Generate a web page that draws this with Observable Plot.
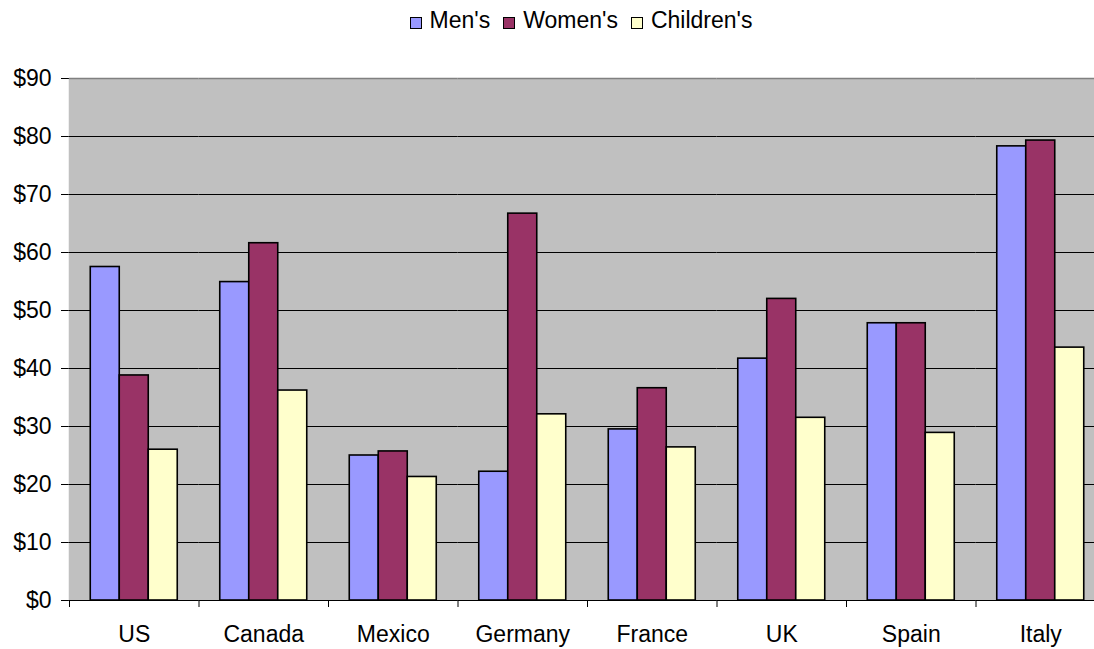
<!DOCTYPE html>
<html>
<head>
<meta charset="utf-8">
<script src="https://cdn.jsdelivr.net/npm/d3@7"></script>
<script src="https://cdn.jsdelivr.net/npm/@observablehq/plot@0.6"></script>
<style>
  html, body { margin: 0; padding: 0; background: #fff; overflow: hidden; }
  body { font-family: "Liberation Sans", Arial, sans-serif; }
  #legend { position: relative; height: 40px; width: 1106px; }
  #legend .inner { position: absolute; left: 63px; width: 1036px; top: 7px; text-align: center; font-size: 23px; line-height: 26px; color: #000; white-space: nowrap; }
  #legend .item { display: inline-block; margin: 0 6.5px; }
  #legend .sw { display: inline-block; width: 10px; height: 10px; border: 1.3px solid #000; margin-right: 8px; vertical-align: -1px; }
  #chart svg { max-width: none !important; height: 609px !important; display: block; }
</style>
</head>
<body>
<div id="legend"><div class="inner"></div></div>
<div id="chart"></div>
<script>
const countries = ["US", "Canada", "Mexico", "Germany", "France", "UK", "Spain", "Italy"];
const series = ["Men's", "Women's", "Children's"];
const mens      = [57.5, 54.9, 25.0, 22.2, 29.5, 41.7, 47.8, 78.3];
const womens    = [38.8, 61.6, 25.7, 66.7, 36.6, 52.0, 47.8, 79.3];
const childrens = [26.0, 36.2, 21.3, 32.1, 26.4, 31.5, 28.9, 43.6];
const colors = ["#9999FF", "#993366", "#FFFFCC"];
const yTicks = [0, 10, 20, 30, 40, 50, 60, 70, 80, 90];

const valuesBySeries = [mens, womens, childrens];
const rows = [];
countries.forEach((c, i) => {
  series.forEach((s, j) => rows.push({country: c, series: s, value: valuesBySeries[j][i]}));
});

// legend
const inner = document.querySelector("#legend .inner");
series.forEach((s, j) => {
  const item = document.createElement("span");
  item.className = "item";
  const sw = document.createElement("span");
  sw.className = "sw";
  sw.style.background = colors[j];
  item.appendChild(sw);
  item.appendChild(document.createTextNode(s));
  inner.appendChild(item);
});

const W = 1106, H = 609, ML = 69, MR = 1, MT = 38, MB = 49;
const padOuter = 0.733;
const cell = (W - ML - MR) / countries.length;
const step = cell / (series.length + 2 * padOuter);
const plotH = H - MT - MB;
const yMax = 90;
const tickLen = 7;

const chart = Plot.plot({
  width: W,
  height: H,
  marginLeft: ML,
  marginRight: MR,
  marginTop: MT,
  marginBottom: MB,
  style: {fontFamily: "'Liberation Sans', Arial, sans-serif", fontSize: "23px", background: "white", color: "#000", overflow: "visible", maxWidth: "none"},
  facet: {data: rows, x: "country"},
  fx: {domain: countries, padding: 0, round: false, axis: "bottom", tickSize: 0, tickPadding: 25, label: null},
  x: {domain: series, paddingInner: 0, paddingOuter: padOuter, round: false, axis: null},
  y: {domain: [0, yMax], ticks: yTicks, tickFormat: d => "$" + d, tickSize: 8, tickPadding: 10, label: null, line: true},
  color: {domain: series, range: colors},
  marks: [
    Plot.frame({fill: "#C0C0C0", stroke: "none", insetLeft: -0.75, insetRight: -0.75}),
    Plot.ruleY(yTicks.filter(t => t > 0 && t < yMax), {stroke: "#000", strokeWidth: 1}),
    Plot.ruleY([yMax], {stroke: "#808080", strokeWidth: 1.5}),
    Plot.barY(rows, {x: "series", y: "value", fill: "series", stroke: "#000", strokeWidth: 1.6}),
    Plot.ruleY([0], {stroke: "#000", strokeWidth: 1.2}),
    Plot.ruleX([series[0]], {x: d => d, y1: 0, y2: -tickLen * yMax / plotH, dx: -(padOuter + 0.5) * step, stroke: "#000", strokeWidth: 1})
  ]
});
document.getElementById("chart").appendChild(chart);
</script>
</body>
</html>
